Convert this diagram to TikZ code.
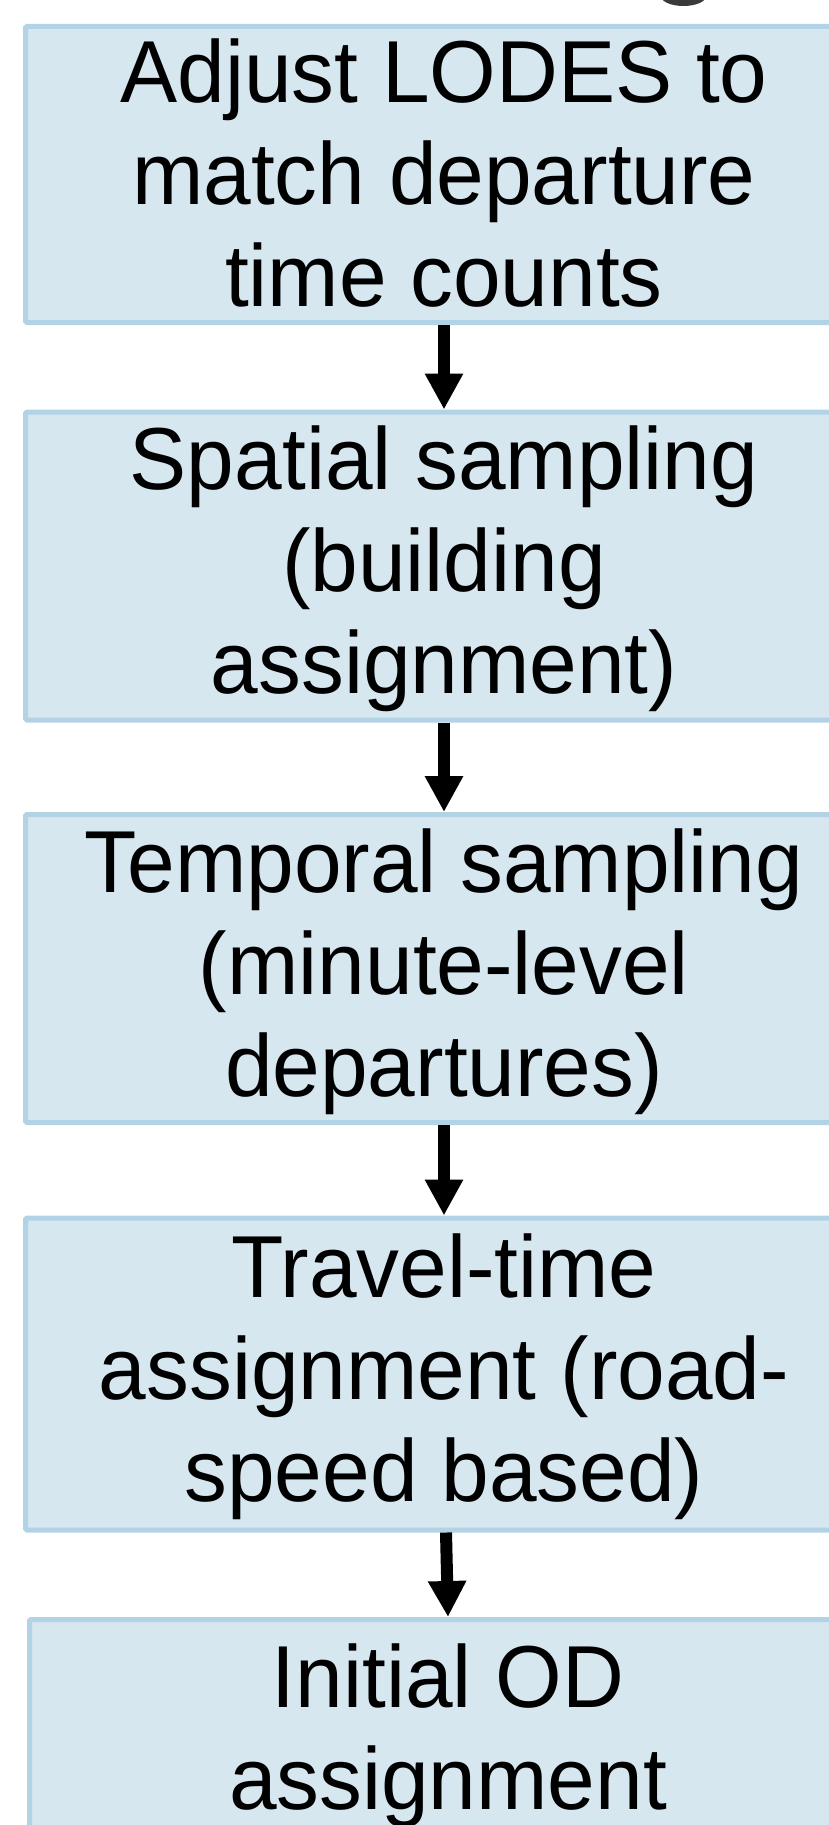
\documentclass[tikz,border=0pt]{standalone}
\usepackage{fontspec}
\setmainfont{Liberation Sans}[FakeStretch=0.973]
\usetikzlibrary{arrows.meta}
\definecolor{boxfill}{HTML}{D6E7F0}
\definecolor{boxline}{HTML}{B2D2E5}
\definecolor{topfrag}{HTML}{3A3A3A}
\newcommand\mystrut{\rule[-10pt]{0pt}{80pt}}
\tikzset{
  stepbox/.style={draw=boxline, fill=boxfill, line width=5pt, rounded corners=1.5pt,
    minimum width=837pt, inner sep=0pt, align=center,
    font=\fontsize{88}{102}\selectfont},
  flowarrow/.style={line width=12pt, -{Triangle[width=36pt,length=36pt]}}
}
\begin{document}
\begin{tikzpicture}[x=1pt,y=-1pt]
\useasboundingbox (0,0) rectangle (829,1825);
\clip (0,0) rectangle (829,1825);
\fill[topfrag] (660,-6) .. controls (660,10) and (707,10) .. (707,-6) -- cycle;
\node[stepbox, minimum height=296pt] (b1) at (444,174.5)
  {\mystrut Adjust LODES to\\match departure\\time counts\mystrut};
\node[stepbox, minimum height=308pt] (b2) at (444,566)
  {\mystrut Spatial sampling\\(building\\assignment)\mystrut};
\node[stepbox, minimum height=308pt] (b3) at (444,968.5)
  {\mystrut Temporal sampling\\(minute-level\\departures)\mystrut};
\node[stepbox, minimum height=312pt] (b4) at (444,1374)
  {\mystrut Travel-time\\assignment (road-\\speed based)\mystrut};
\node[stepbox, minimum height=226pt] (b5) at (448,1732.5)
  {\mystrut Initial OD\\assignment\mystrut};
\draw[flowarrow] (b1.south) -- (b2.north);
\draw[flowarrow] (b2.south) -- (b3.north);
\draw[flowarrow] (b3.south) -- (b4.north);
\draw[flowarrow] ([xshift=2pt]b4.south) -- (b5.north);
\end{tikzpicture}
\end{document}
